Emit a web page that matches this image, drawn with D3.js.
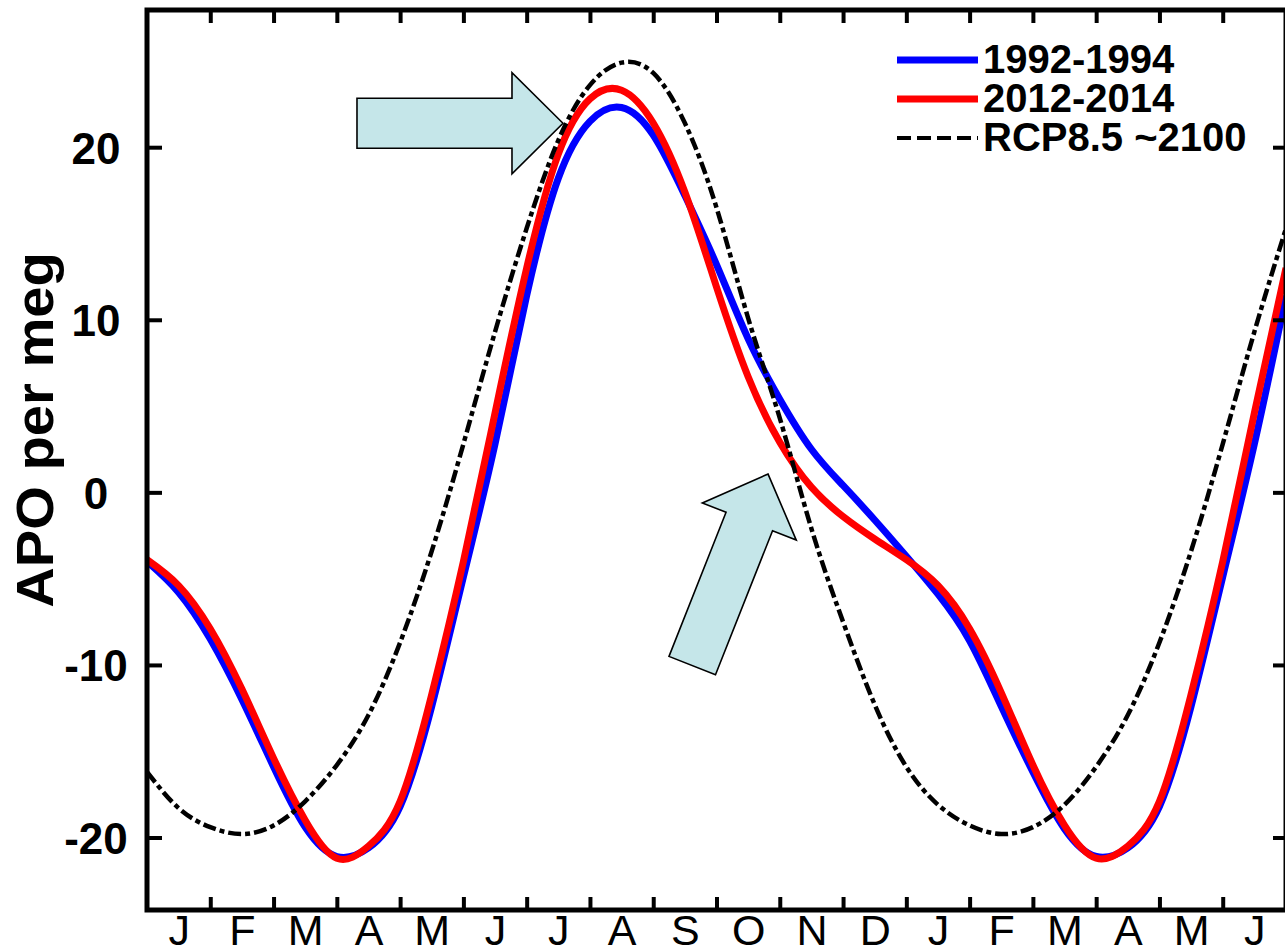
<!DOCTYPE html>
<html>
<head>
<meta charset="utf-8">
<script src="https://cdn.jsdelivr.net/npm/d3@7"></script>
<style>
html,body{margin:0;padding:0;background:#fff;overflow:hidden}
svg{display:block}
</style>
</head>
<body>
<svg id="chart" width="1285" height="950"></svg>
<script>
// ---- data (months since start of January, half-month steps) ----
const monthPos = [0,0.5,1,1.5,2,2.5,3,3.5,4,4.5,5,5.5,6,6.5,7,7.5,8,8.5,9,9.5,10,10.5,11,11.5,12,12.5,13,13.5,14,14.5,15,15.5,16,16.5,17,17.5,18];
const apo1992 = [-4.0,-5.8,-8.5,-12.0,-15.9,-19.4,-21.1,-20.6,-18.2,-12.4,-4.9,2.8,11.4,18.2,21.5,22.3,20.7,17.2,13.2,8.9,5.4,2.5,0.4,-1.6,-3.7,-5.9,-8.6,-12.4,-16.2,-19.5,-21.1,-20.6,-18.2,-12.4,-4.9,2.8,11.4];
const apo2012 = [-3.9,-5.4,-7.9,-11.4,-15.4,-19.0,-21.2,-20.5,-17.9,-11.7,-4.0,4.6,13.0,19.6,22.8,23.3,21.4,17.4,11.9,6.7,2.9,0.3,-1.4,-2.7,-3.9,-5.4,-7.9,-11.6,-15.8,-19.3,-21.2,-20.5,-17.9,-11.7,-4.0,4.6,13.0];
const apoRcp  = [-16.2,-18.3,-19.4,-19.8,-19.3,-17.9,-15.8,-12.9,-8.7,-3.4,2.8,9.3,15.3,20.4,23.6,24.9,24.3,21.4,16.5,10.1,4.3,-2.1,-7.5,-12.3,-15.9,-18.1,-19.3,-19.8,-19.4,-18.1,-15.9,-12.9,-8.7,-3.4,2.8,9.3,15.3];
const monthLabels = ["J","F","M","A","M","J","J","A","S","O","N","D","J","F","M","A","M","J"];
const monthBounds = [1,2,3,4,5,6,7,8,9,10,11,12,13,14,15,16,17];
const yTicks = [-20,-10,0,10,20];
const seriesNames = ["1992-1994","2012-2014","RCP8.5 ~2100"];

// ---- layout ----
const svg = d3.select("#chart");
const L = 147, R = 1286, T = 10, B = 910;
const x = d3.scaleLinear().domain([0,18]).range([L,R]);
const y = d3.scaleLinear().domain([-24.2,27.95]).range([B,T]);
const FONT = "'Liberation Sans', Arial, Helvetica, sans-serif";

svg.append("rect").attr("width",1285).attr("height",950).attr("fill","#fff");

// ---- curves ----
const line = d3.line().x((d,i)=>x(monthPos[i])).y(d=>y(d)).curve(d3.curveNatural);
const series = [
  {name: seriesNames[0], vals: apo1992, color:"#0000ff", width:7, dash:null},
  {name: seriesNames[1], vals: apo2012, color:"#ff0000", width:7, dash:null},
  {name: seriesNames[2], vals: apoRcp,  color:"#000000", width:4.5, dash:"13,4,5,4"}
];
svg.append("clipPath").attr("id","plotclip").append("rect")
  .attr("x",L).attr("y",T).attr("width",R-L).attr("height",B-T);
const gLines = svg.append("g").attr("clip-path","url(#plotclip)");
series.forEach(s=>{
  gLines.append("path").datum(s.vals)
    .attr("d",line).attr("fill","none")
    .attr("stroke",s.color).attr("stroke-width",s.width)
    .attr("stroke-linejoin","round").attr("stroke-linecap","butt")
    .attr("stroke-dasharray",s.dash);
});

// ---- arrows (annotations) ----
const arrowShape = [[0,0],[-51,-50.5],[-51,-25],[-206,-25],[-206,25],[-51,25],[-51,50.5]];
const arrows = [
  {tipMonth:6.574, tipVal:21.39, angle:0},
  {tipMonth:9.815, tipVal:1.06, angle:-68.4}
];
arrows.forEach(a=>{
  svg.append("path")
    .attr("d","M"+arrowShape.map(p=>p.join(",")).join("L")+"Z")
    .attr("transform",`translate(${x(a.tipMonth)},${y(a.tipVal)}) rotate(${a.angle})`)
    .attr("fill","#c5e6e9").attr("stroke","#000").attr("stroke-width",1.6)
    .attr("stroke-linejoin","miter");
});

// ---- axes (ticks inward) ----
function styleAxis(g){
  g.select(".domain").remove();
  g.selectAll(".tick line").attr("stroke","#000").attr("stroke-width",4);
}
svg.append("g").attr("transform",`translate(0,${B})`)
  .call(d3.axisBottom(x).tickValues(monthBounds).tickSize(-13).tickFormat(""))
  .call(styleAxis);
svg.append("g").attr("transform",`translate(0,${T})`)
  .call(d3.axisTop(x).tickValues(monthBounds).tickSize(-13).tickFormat(""))
  .call(styleAxis);
svg.append("g").attr("transform",`translate(${R},0)`)
  .call(d3.axisRight(y).tickValues(yTicks).tickSize(-13).tickFormat(""))
  .call(styleAxis);
const yAx = svg.append("g").attr("transform",`translate(${L},0)`)
  .call(d3.axisLeft(y).tickValues(yTicks).tickSize(-15).tickFormat(d=>d))
  .call(styleAxis);
yAx.selectAll(".tick text")
  .attr("x",-51).attr("text-anchor","middle").attr("dy","0.36em")
  .attr("font-family",FONT).attr("font-weight","bold").attr("font-size",44).attr("fill","#000");

// month labels centred in each month
const centers = monthLabels.map((m,i)=>i+0.5);
const mAx = svg.append("g").attr("transform",`translate(0,${B})`)
  .call(d3.axisBottom(x).tickValues(centers).tickSize(0).tickPadding(0).tickFormat((d,i)=>monthLabels[i]));
mAx.select(".domain").remove();
mAx.selectAll(".tick text")
  .attr("y",35).attr("dy",0)
  .attr("font-family",FONT).attr("font-size",43).attr("fill","#000");

// frame
svg.append("rect").attr("x",L).attr("y",T).attr("width",R-L).attr("height",B-T)
  .attr("fill","none").attr("stroke","#000").attr("stroke-width",5);

// y label
svg.append("text")
  .attr("transform","translate(53,430) rotate(-90) scale(1.08,1)")
  .attr("text-anchor","middle")
  .attr("font-family",FONT).attr("font-weight","bold").attr("font-size",52)
  .text("APO per meg");

// ---- legend ----
const leg = svg.append("g");
series.forEach((s,i)=>{
  const cy = 60 + i*39;
  leg.append("line").attr("x1",897).attr("x2",978).attr("y1",cy).attr("y2",cy)
    .attr("stroke",s.color).attr("stroke-width",s.dash?4:7).attr("stroke-dasharray",s.dash?"14,6":null);
  leg.append("text").attr("x",983).attr("y",cy+13)
    .attr("font-family",FONT).attr("font-weight","bold").attr("font-size",40)
    .text(s.name);
});
</script>
</body>
</html>
